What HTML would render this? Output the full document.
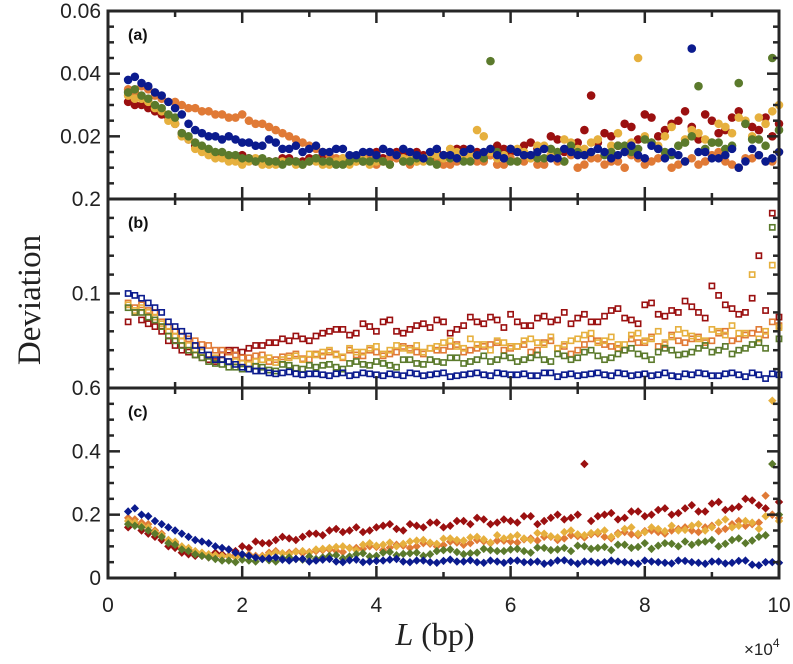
<!DOCTYPE html>
<html><head><meta charset="utf-8"><style>
html,body{margin:0;padding:0;background:#fff;}
svg{display:block;}
</style></head><body>
<svg id="chart" width="793" height="664" xmlns="http://www.w3.org/2000/svg"></svg>
<script>
const lengths=[0.3,0.5,0.7,0.9,1.1,1.3,1.5,1.7,1.9,2.1,2.3,2.5,2.7,2.9,3.1,3.3,3.5,3.7,3.9,4.1,4.3,4.5,4.7,4.9,5.1,5.3,5.5,5.7,5.9,6.1,6.3,6.5,6.7,6.9,7.1,7.3,7.5,7.7,7.9,8.1,8.3,8.5,8.7,8.9,9.1,9.3,9.5,9.7,9.9];
const lengths2=[0.4,0.6,0.8,1.0,1.2,1.4,1.6,1.8,2.0,2.2,2.4,2.6,2.8,3.0,3.2,3.4,3.6,3.8,4.0,4.2,4.4,4.6,4.8,5.0,5.2,5.4,5.6,5.8,6.0,6.2,6.4,6.6,6.8,7.0,7.2,7.4,7.6,7.8,8.0,8.2,8.4,8.6,8.8,9.0,9.2,9.4,9.6,9.8,10.0];
const seriesNames=["red","orange","gold","green","navy"];
// panel a (x1e-3)
const aRed=[31,30,28,26,21,17,15,14,13,13,12,12,13,12,13,14,12,13,14,13,15,13,14,15,14,16,15,14,16,15,18,16,19,17,22,18,20,24,19,26,22,25,23,27,21,26,24,22,20];
const aOrange=[35,36,33,31,30,29,28,27,26,25,24,22,20,18,16,14,13,12,14,12,13,11,13,12,11,13,12,14,11,12,13,11,12,14,11,13,12,10,13,12,14,11,13,12,15,11,13,14,12];
const aGold=[33,32,29,25,20,16,14,13,12,12,11,11,12,11,12,11,13,12,11,12,14,13,12,14,16,13,22,15,14,16,13,17,15,18,16,19,17,16,45,18,20,17,22,19,24,21,25,26,28];
const aGreen=[34,33,30,27,21,18,16,15,14,13,13,12,12,11,13,12,11,13,12,12,14,12,13,11,13,12,14,44,13,12,14,13,15,17,14,16,15,17,16,18,15,17,20,16,18,17,24,19,45];
const aNavy=[38,37,34,31,27,22,20,19,19,18,17,18,16,15,17,15,16,14,15,16,14,15,13,16,14,15,14,16,13,15,14,16,13,15,14,16,13,15,14,17,13,14,48,15,13,16,12,14,13];
const aRed2=[30,29,27,24,19,16,14,13,14,12,12,13,12,13,14,12,13,12,15,13,14,15,13,14,16,15,14,17,15,17,16,20,15,18,33,21,17,23,27,20,24,28,19,25,22,28,23,26,24];
const aOrange2=[34,35,32,31,29,28,27,26,27,24,23,21,19,17,15,13,12,14,11,13,12,12,14,11,12,14,12,11,13,12,11,14,12,10,13,11,12,14,11,13,10,12,11,14,12,10,13,12,15];
const aGold2=[32,31,28,24,19,15,13,12,11,13,11,12,11,12,11,12,11,13,12,11,13,12,14,13,15,14,20,13,16,15,17,14,19,16,18,15,21,18,20,17,23,19,21,18,23,26,20,24,30];
const aGreen2=[35,32,29,26,20,17,15,14,13,12,12,11,12,12,12,11,12,12,13,11,12,13,12,14,13,12,13,15,12,14,13,16,12,15,15,14,17,15,19,16,14,18,36,18,16,37,19,17,22];
const aNavy2=[39,36,33,29,24,21,20,20,18,17,19,16,17,16,15,16,14,15,14,15,16,14,15,14,13,16,15,14,16,14,15,13,16,14,15,15,14,17,13,16,15,12,15,13,14,10,16,12,15];
// panel b (x1e-3)
const bRed=[70,72,65,50,40,35,30,35,40,42,45,48,50,52,55,60,62,58,65,70,60,62,68,72,58,66,70,75,64,70,66,76,72,68,78,70,82,74,68,90,76,80,86,74,98,84,80,140,185];
const bOrange=[90,88,80,65,55,50,45,40,35,32,35,30,34,31,36,38,32,35,40,34,38,42,36,40,44,38,42,46,40,44,38,48,42,36,46,50,44,40,48,54,46,50,52,48,58,50,56,62,70];
const bGold=[88,85,75,60,50,40,35,30,28,25,30,27,32,30,35,40,33,38,42,36,45,40,38,44,50,42,46,40,48,44,52,46,42,50,56,48,54,46,58,52,48,62,55,50,60,66,58,52,130];
const bGreen=[85,80,72,55,45,35,28,25,22,20,22,18,24,20,22,25,20,28,24,26,22,30,25,28,32,26,30,28,34,28,32,30,36,30,38,34,32,40,36,30,42,35,38,45,40,36,42,48,170];
const bNavy=[100,95,85,70,60,45,35,30,25,20,18,15,17,14,15,13,16,14,15,13,14,16,13,15,12,14,16,13,15,14,13,16,12,15,14,16,13,15,14,13,16,12,14,15,13,16,12,14,15];
const bRed2=[80,68,60,45,38,32,28,40,38,45,48,52,55,50,58,62,56,68,60,72,58,66,64,70,62,75,68,72,78,66,74,70,80,74,70,76,84,72,88,78,82,92,80,108,88,78,95,82,75];
const bOrange2=[85,82,70,60,52,46,40,38,32,34,28,33,36,30,34,36,40,34,38,36,44,38,42,40,46,40,44,48,42,46,40,50,44,40,52,46,42,52,48,44,56,48,54,50,60,52,58,56,66];
const bGold2=[82,80,68,55,45,38,32,28,26,28,32,30,34,36,38,35,42,38,44,40,42,45,42,48,44,52,46,50,44,50,48,54,46,52,58,50,46,56,50,60,54,58,52,62,56,58,120,60,64];
const bGreen2=[80,75,65,50,40,32,26,22,20,23,19,25,21,24,24,22,26,25,28,24,30,26,30,27,32,28,34,30,32,30,35,28,34,32,40,30,36,42,34,38,40,36,42,38,44,40,46,42,52];
const bNavy2=[98,90,80,65,55,40,30,28,22,18,16,16,15,15,14,15,13,16,14,15,13,15,14,16,13,15,14,16,14,15,13,16,14,13,15,14,16,13,15,14,13,15,16,13,15,14,16,10,14];
// panel c (x1e-3)
const cRed=[160,150,130,100,80,70,65,75,85,95,110,120,125,130,140,150,145,160,150,165,155,170,160,175,165,180,190,170,185,175,195,180,200,190,360,195,205,190,210,200,220,205,230,210,240,220,250,230,200];
const cOrange=[190,175,150,120,95,80,70,68,72,75,70,85,80,78,85,90,82,95,100,88,105,95,110,100,115,105,120,110,118,112,125,130,120,135,128,140,125,145,135,150,140,155,150,160,148,170,165,175,200];
const cGold=[180,165,145,120,100,85,75,70,65,72,68,80,75,85,90,95,100,88,110,105,100,115,120,108,125,118,130,112,125,135,120,140,128,150,135,145,130,155,140,160,148,150,165,150,175,160,180,155,560];
const cGreen=[170,160,140,110,90,75,65,55,50,55,60,52,65,58,60,70,62,75,68,80,72,78,70,85,90,75,80,88,85,92,80,95,90,85,100,95,88,105,98,92,110,100,105,115,100,120,110,130,360];
const cNavy=[210,200,180,160,140,120,110,95,80,70,60,65,55,60,55,60,50,58,52,55,60,50,55,48,58,52,50,55,48,55,50,45,55,50,52,48,55,50,45,52,48,55,50,45,52,48,55,40,50];
const cRed2=[170,140,120,95,75,70,80,90,100,115,110,130,120,140,135,155,150,145,160,170,150,165,175,160,180,170,185,175,180,195,170,190,185,200,180,200,185,210,195,215,200,220,210,235,215,225,245,220,240];
const cOrange2=[185,170,140,110,90,78,72,70,75,70,80,78,84,82,88,86,95,92,98,96,102,100,108,104,112,110,116,118,115,122,118,130,125,132,138,130,142,138,148,145,150,160,145,165,155,180,170,260,190];
const cGold2=[175,160,135,115,95,80,72,68,70,66,75,78,82,80,92,98,94,105,102,112,108,118,112,124,120,128,122,135,130,125,142,132,145,138,142,150,138,160,145,155,165,152,170,160,185,165,175,195,180];
const cGreen2=[165,150,130,105,85,70,60,55,58,52,56,62,60,68,65,72,68,78,70,82,76,80,75,88,82,78,92,85,90,85,96,88,95,102,92,98,105,95,110,102,108,115,112,120,108,125,118,135,200];
const cNavy2=[220,195,170,150,130,115,100,90,75,65,62,58,60,52,58,52,56,50,54,58,52,55,50,54,52,56,48,52,54,50,52,48,56,45,52,50,52,48,55,50,46,54,48,52,46,54,42,50,48];
const xTickLabels=["0","2","4","6","8","10"];
const aTickLabels=["0.06","0.04","0.02"];
const bTickLabels=["0.2","0.1"];
const cTickLabels=["0.6","0.4","0.2","0"];

const svg=document.getElementById('chart');
const NS='http://www.w3.org/2000/svg';
const colors={red:'#9b1010',orange:'#e07a36',gold:'#e6b03e',green:'#5b7a2c',navy:'#0b1b8e'};
const X0=108,X1=779;
function xs(v){return X0+(v/10)*(X1-X0);}
const panels=[
 {id:'a',top:11,bot:199,max:0.06,minor:0.005,major:0.02,shape:'circle',data:[aRed,aOrange,aGold,aGreen,aNavy],data2:[aRed2,aOrange2,aGold2,aGreen2,aNavy2]},
 {id:'b',top:199,bot:388,max:0.2,minor:0.02,major:0.1,shape:'square',data:[bRed,bOrange,bGold,bGreen,bNavy],data2:[bRed2,bOrange2,bGold2,bGreen2,bNavy2]},
 {id:'c',top:388,bot:578,max:0.6,minor:0.05,major:0.2,shape:'diamond',data:[cRed,cOrange,cGold,cGreen,cNavy],data2:[cRed2,cOrange2,cGold2,cGreen2,cNavy2]}
];
function mk(tag,attrs,parent){const e=document.createElementNS(NS,tag);for(const k in attrs)e.setAttribute(k,attrs[k]);(parent||svg).appendChild(e);return e;}
function drawPoints(p,arr,xsArr,c,sg,ys){
  arr.forEach((v,i)=>{
    if(i>=xsArr.length)return;
    const cx=xs(xsArr[i]),cy=ys(v/1000);
    let m;
    if(p.shape==='circle'){m=mk('circle',{cx:cx,cy:cy,r:4.3,fill:c},sg);}
    else if(p.shape==='square'){m=mk('rect',{x:cx-2.6,y:cy-2.6,width:5.2,height:5.2,fill:'none',stroke:c,'stroke-width':1.6},sg);}
    else{m=mk('polygon',{points:`${cx},${cy-4.2} ${cx+4.2},${cy} ${cx},${cy+4.2} ${cx-4.2},${cy}`,fill:c},sg);}
    
    
  });
}
panels.forEach(p=>{
  const g=mk('g',{});
  
  
  const ys=v=>p.bot-(v/p.max)*(p.bot-p.top);
  p.data.forEach((arr,si)=>{
    const sg=mk('g',{},g);
    
    
    const c=colors[seriesNames[si]];
    drawPoints(p,arr,lengths,c,sg,ys);
    drawPoints(p,p.data2[si],lengths2,c,sg,ys);
  });
  const n=Math.round(p.max/p.minor);
  for(let k=0;k<=n;k++){
    const v=k*p.minor,y=ys(v);
    const isMaj=Math.abs((v/p.major)-Math.round(v/p.major))<1e-6;
    const L=isMaj?12:6;
    mk('line',{x1:X0,x2:X0+L,y1:y,y2:y,stroke:'#262626','stroke-width':2.5},g);
    mk('line',{x1:X1,x2:X1-L,y1:y,y2:y,stroke:'#262626','stroke-width':2.5},g);
  }
  for(let k=0;k<=10;k++){
    const x=xs(k),L=(k%2===0)?12:6;
    mk('line',{x1:x,x2:x,y1:p.top,y2:p.top+L,stroke:'#262626','stroke-width':2.5},g);
    mk('line',{x1:x,x2:x,y1:p.bot,y2:p.bot-L,stroke:'#262626','stroke-width':2.5},g);
  }
  const fr=mk('rect',{x:X0,y:p.top,width:X1-X0,height:p.bot-p.top,fill:'none',stroke:'#262626','stroke-width':3},g);
  
  
  const t=mk('text',{x:X0+20,y:p.top+29,'font-family':'Liberation Sans, sans-serif','font-size':16,'font-weight':'bold',fill:'#111'},g);
  t.textContent='('+p.id+')';
  
  
});
function ytext(str,y){const t=mk('text',{x:101,y:y+7,'text-anchor':'end','font-family':'Liberation Sans, sans-serif','font-size':21,fill:'#222'});t.textContent=str;}
aTickLabels.forEach((s,i)=>ytext(s,11+i*(188/3)));
bTickLabels.forEach((s,i)=>ytext(s,199+i*94.5));
cTickLabels.forEach((s,i)=>ytext(s,388+i*(190/3)));
xTickLabels.forEach((s,i)=>{const t=mk('text',{x:xs(i*2),y:612,'text-anchor':'middle','font-family':'Liberation Sans, sans-serif','font-size':21,fill:'#222'});t.textContent=s;});
const xl=mk('text',{x:435,y:645,'text-anchor':'middle','font-family':'Liberation Serif, serif','font-size':32,fill:'#222'});
xl.innerHTML='<tspan font-style="italic">L</tspan> (bp)';

const ex=mk('text',{x:744,y:655,'font-family':'Liberation Sans, sans-serif','font-size':17,fill:'#222'});
ex.innerHTML='×10<tspan font-size="12" dy="-8">4</tspan>';

const yl=mk('text',{x:0,y:0,transform:'translate(40,300) rotate(-90)','text-anchor':'middle','font-family':'Liberation Serif, serif','font-size':33,fill:'#222'});
yl.textContent='Deviation';

</script>
</body></html>
